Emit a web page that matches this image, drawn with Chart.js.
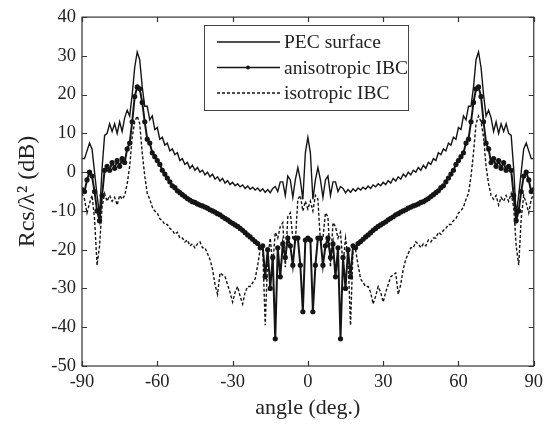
<!DOCTYPE html>
<html>
<head>
<meta charset="utf-8">
<script src="https://cdn.jsdelivr.net/npm/chart.js@4.4.1/dist/chart.umd.min.js"></script>
<style>
  html, body { margin: 0; padding: 0; background: #fff; }
  #wrap { width: 548px; height: 425px; }
</style>
</head>
<body>
<div id="wrap"><canvas id="rcs" width="548" height="425"></canvas></div>
<script>
// observation angles, one degree apart
const angles = [];
for (let a = -90; a <= 90; a++) angles.push(a);

// Rcs/lambda^2 in dB
const pecValues = [
  3.5, 3.5, 5.5, 7.5, 6, 0, -6, -11, 1, 9.5,
  10, 12.5, 10.5, 12.5, 10, 13, 10.5, 14, 16, 14.5,
  20, 27, 31, 29, 22, 17, 17, 13.5, 14.5, 11,
  11.5, 8.5, 9, 7, 7.5, 5.5, 6, 4.5, 5, 3,
  3.5, 2, 2.5, 1, 1.8, 0.5, 1.2, 0, 0.5, -0.7,
  0, -1.2, -0.5, -1.8, -1.2, -2.3, -1.6, -2.8, -2.2, -3.2,
  -2.6, -3.5, -3, -3.8, -3.3, -4.2, -3.6, -4.4, -3.9, -4.6,
  -4.1, -4.9, -4.3, -5.2, -4.5, -5.3, -4.2, -3.7, -5, -2.5,
  -2.5, -6, -1, -2, -6.5, -2, 1.2, -2, -7, 5,
  9,
  5, -7, -2, 1.2, -2, -6.5, -2, -1, -6, -2.5,
  -2.5, -5, -3.7, -4.2, -5.3, -4.5, -5.2, -4.3, -4.9, -4.1,
  -4.6, -3.9, -4.4, -3.6, -4.2, -3.3, -3.8, -3, -3.5, -2.6,
  -3.2, -2.2, -2.8, -1.6, -2.3, -1.2, -1.8, -0.5, -1.2, 0,
  -0.7, 0.5, 0, 1.2, 0.5, 1.8, 1, 2.5, 2, 3.5,
  3, 5, 4.5, 6, 5.5, 7.5, 7, 9, 8.5, 11.5,
  11, 14.5, 13.5, 17, 17, 22, 29, 31, 27, 20,
  14.5, 16, 14, 10.5, 13, 10, 12.5, 10.5, 12.5, 10,
  9.5, 1, -11, -6, 0, 6, 7.5, 5.5, 3.5, 3.5
];

const anisoValues = [
  -4.5, -5, -2, 0, -1, -5, -10, -12.5, -6, 0.5,
  1.5, 0.5, 2.5, 1, 3, 1.5, 3.5, 2.5, 6, 7.5,
  13, 19.5, 22, 21.5, 18, 13, 8.5, 7.5, 5, 4,
  3, 2, 0.5, -0.5, -1.5, -2.5, -3.5, -4, -4.8, -5.3,
  -5.8, -6.3, -6.8, -7.2, -7.6, -7.8, -8.2, -8.5, -8.7, -9,
  -9.3, -9.7, -10, -10.3, -10.7, -11, -11.5, -11.9, -12.3, -12.8,
  -13.2, -13.6, -14, -14.5, -15, -15.6, -16.2, -16.7, -17.3, -17.9,
  -18.4, -19.5, -19, -27, -20, -30, -22, -43, -19.5, -27,
  -18.5, -22, -17, -19, -24, -17, -17, -24, -36, -17.5,
  -17,
  -17.5, -36, -24, -17, -17, -24, -19, -17, -22, -18.5,
  -27, -19.5, -43, -22, -30, -20, -27, -19, -19.5, -18.4,
  -17.9, -17.3, -16.7, -16.2, -15.6, -15, -14.5, -14, -13.6, -13.2,
  -12.8, -12.3, -11.9, -11.5, -11, -10.7, -10.3, -10, -9.7, -9.3,
  -9, -8.7, -8.5, -8.2, -7.8, -7.6, -7.2, -6.8, -6.3, -5.8,
  -5.3, -4.8, -4, -3.5, -2.5, -1.5, -0.5, 0.5, 2, 3,
  4, 5, 7.5, 8.5, 13, 18, 21.5, 22, 19.5, 13,
  7.5, 6, 2.5, 3.5, 1.5, 3, 1, 2.5, 0.5, 1.5,
  0.5, -6, -12.5, -10, -5, -1, 0, -2, -5, -4.5
];

const isoValues = [
  -5.5, -7, -10.5, -8, -6, -12, -24, -19, -9, -5.5,
  -7.5, -6, -7.5, -6.5, -8.5, -6, -7, -6, -3, 1.5,
  9, 13, 14.5, 12.5, 5, -1, -5.5, -7, -9, -10,
  -10.5, -12, -12.5, -13.5, -13.5, -14.5, -15, -16, -15.5, -17,
  -17, -18, -17.5, -19, -18.5, -19.5, -18.5, -18, -19.5, -19.5,
  -21, -22.5, -25, -29, -31.5, -26, -26.5, -27, -29, -31,
  -33.5, -31, -29.5, -32, -34, -31, -29.5, -29.5, -28.5, -27.5,
  -24, -20, -19.5, -39.5, -22, -17, -24, -15.5, -17, -14,
  -13, -24.5, -11.5, -10.5, -17, -18, -7, -6, -10, -7.5,
  -9.5,
  -7.5, -10, -6, -7, -18, -17, -10.5, -11.5, -24.5, -13,
  -14, -17, -15.5, -24, -17, -22, -39.5, -19.5, -20, -24,
  -27.5, -28.5, -29.5, -29.5, -31, -34, -32, -29.5, -31, -33.5,
  -31, -29, -27, -26.5, -26, -31.5, -29, -25, -22.5, -21,
  -19.5, -19.5, -18, -18.5, -19.5, -18.5, -19, -17.5, -18, -17,
  -17, -15.5, -16, -15, -14.5, -13.5, -13.5, -12.5, -12, -10.5,
  -10, -9, -7, -5.5, -1, 5, 12.5, 14.5, 13, 9,
  1.5, -3, -6, -7, -6, -8.5, -6.5, -7.5, -6, -7.5,
  -5.5, -9, -19, -24, -12, -6, -8, -10.5, -7, -5.5
];

const seriesNames = ['PEC surface', 'anisotropic IBC', 'isotropic IBC'];

const ink = '#151515';
const serif = '"Liberation Serif", "Times New Roman", serif';

function toPoints(values) {
  return values.map((v, i) => ({ x: angles[i], y: v }));
}

// box around the plot with inward ticks on all four sides
const frameTicks = {
  id: 'frameTicks',
  afterDatasetsDraw(chart) {
    const { ctx, chartArea: a, scales } = chart;
    const len = 5;
    ctx.save();
    ctx.strokeStyle = '#333';
    ctx.lineWidth = 1.2;
    ctx.strokeRect(a.left, a.top, a.right - a.left, a.bottom - a.top);
    ctx.beginPath();
    scales.x.ticks.forEach(t => {
      const px = Math.round(scales.x.getPixelForValue(t.value)) + 0.5;
      ctx.moveTo(px, a.bottom); ctx.lineTo(px, a.bottom - len);
      ctx.moveTo(px, a.top); ctx.lineTo(px, a.top + len);
    });
    scales.y.ticks.forEach(t => {
      const py = Math.round(scales.y.getPixelForValue(t.value)) + 0.5;
      ctx.moveTo(a.left, py); ctx.lineTo(a.left + len, py);
      ctx.moveTo(a.right, py); ctx.lineTo(a.right - len, py);
    });
    ctx.stroke();
    ctx.restore();
  }
};

// legend box in the upper middle of the plot
const boxLegend = {
  id: 'boxLegend',
  afterDraw(chart) {
    const { ctx } = chart;
    const x0 = 204, y0 = 25, w = 204, h = 85;
    ctx.save();
    ctx.fillStyle = '#fff';
    ctx.fillRect(x0, y0, w, h);
    ctx.strokeStyle = '#444';
    ctx.lineWidth = 1;
    ctx.strokeRect(x0 + 0.5, y0 + 0.5, w, h);
    chart.data.datasets.forEach((ds, i) => {
      const y = y0 + 17 + i * 25.5;
      ctx.strokeStyle = ds.borderColor;
      ctx.lineWidth = Math.min(ds.borderWidth, 1.5);
      ctx.setLineDash(ds.borderDash || []);
      ctx.beginPath();
      ctx.moveTo(x0 + 13, y);
      ctx.lineTo(x0 + 76, y);
      ctx.stroke();
      ctx.setLineDash([]);
      if (ds.pointRadius > 0) {
        ctx.fillStyle = ds.pointBackgroundColor;
        ctx.beginPath();
        ctx.arc(x0 + 44, y, 2, 0, Math.PI * 2);
        ctx.fill();
      }
      ctx.fillStyle = '#222';
      ctx.font = '19.5px ' + serif;
      ctx.textBaseline = 'middle';
      ctx.textAlign = 'left';
      ctx.fillText(ds.label, x0 + 80, y + 1);
    });
    ctx.restore();
  }
};

new Chart(document.getElementById('rcs'), {
  type: 'line',
  data: {
    datasets: [
      {
        label: seriesNames[0],
        data: toPoints(pecValues),
        borderColor: ink,
        borderWidth: 1.4,
        pointRadius: 0,
        tension: 0
      },
      {
        label: seriesNames[1],
        data: toPoints(anisoValues),
        borderColor: ink,
        borderWidth: 2,
        pointRadius: 2.6,
        pointBorderWidth: 0,
        pointBackgroundColor: ink,
        tension: 0
      },
      {
        label: seriesNames[2],
        data: toPoints(isoValues),
        borderColor: ink,
        borderWidth: 1.4,
        borderDash: [3, 2],
        pointRadius: 0,
        tension: 0
      }
    ]
  },
  options: {
    responsive: false,
    animation: false,
    events: [],
    layout: { padding: { top: 15, right: 11, left: 0, bottom: 0 } },
    plugins: {
      legend: { display: false },
      tooltip: { enabled: false }
    },
    scales: {
      x: {
        type: 'linear',
        min: -90,
        max: 90,
        grid: { display: false, drawTicks: false },
        border: { display: false },
        ticks: {
          stepSize: 30,
          padding: 5,
          maxRotation: 0,
          autoSkip: false,
          color: '#222',
          font: { family: serif, size: 18.5 }
        },
        title: {
          display: true,
          text: 'angle (deg.)',
          color: '#222',
          font: { family: serif, size: 22 },
          padding: { top: 0, bottom: 4 }
        },
        afterFit(s) { s.height = 59; }
      },
      y: {
        min: -50,
        max: 40,
        grid: { display: false, drawTicks: false },
        border: { display: false },
        ticks: {
          stepSize: 10,
          padding: 6,
          color: '#222',
          font: { family: serif, size: 18.5 }
        },
        title: {
          display: true,
          text: 'Rcs/λ² (dB)',
          color: '#222',
          font: { family: serif, size: 24 },
          padding: { top: 13, bottom: 0 }
        },
        afterFit(s) { s.width = 82; }
      }
    }
  },
  plugins: [frameTicks, boxLegend]
});
</script>
</body>
</html>
